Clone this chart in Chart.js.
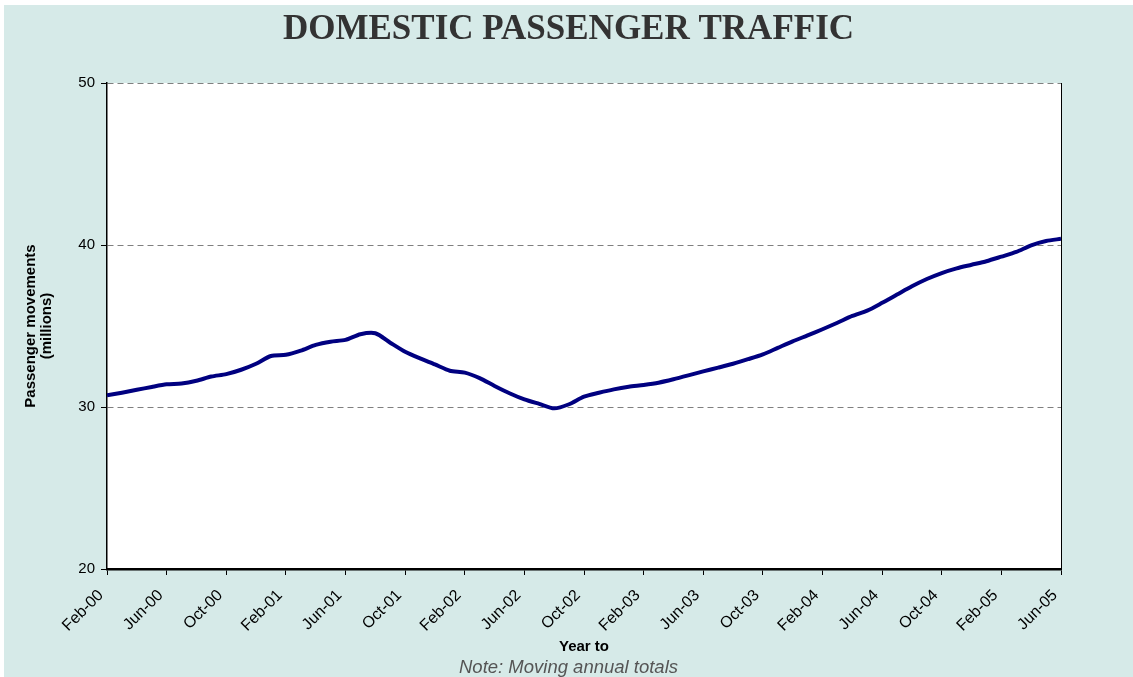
<!DOCTYPE html>
<html>
<head>
<meta charset="utf-8">
<script src="https://cdn.jsdelivr.net/npm/chart.js@4.4.1/dist/chart.umd.min.js"></script>
<style>
  body { margin: 0; background: #fff; }
  #wrap { position: absolute; left: 4px; top: 5px; width: 1129px; height: 672px; background: #d6eae8; }
</style>
</head>
<body>
<div id="wrap"><canvas id="myChart"></canvas></div>
<script>
// months, Feb-00 .. Jun-05 (moving annual totals, millions)
var months = ['Feb-00','Mar-00','Apr-00','May-00','Jun-00','Jul-00','Aug-00','Sep-00','Oct-00','Nov-00','Dec-00','Jan-01',
  'Feb-01','Mar-01','Apr-01','May-01','Jun-01','Jul-01','Aug-01','Sep-01','Oct-01','Nov-01','Dec-01','Jan-02',
  'Feb-02','Mar-02','Apr-02','May-02','Jun-02','Jul-02','Aug-02','Sep-02','Oct-02','Nov-02','Dec-02','Jan-03',
  'Feb-03','Mar-03','Apr-03','May-03','Jun-03','Jul-03','Aug-03','Sep-03','Oct-03','Nov-03','Dec-03','Jan-04',
  'Feb-04','Mar-04','Apr-04','May-04','Jun-04','Jul-04','Aug-04','Sep-04','Oct-04','Nov-04','Dec-04','Jan-05',
  'Feb-05','Mar-05','Apr-05','May-05','Jun-05'];
var passengers = [30.72,30.88,31.06,31.24,31.40,31.45,31.62,31.88,32.03,32.30,32.67,33.15,
  33.22,33.48,33.83,34.03,34.14,34.49,34.55,33.97,33.41,33.00,32.63,32.24,
  32.12,31.78,31.30,30.85,30.47,30.19,29.92,30.17,30.64,30.88,31.09,31.25,
  31.36,31.50,31.71,31.95,32.20,32.43,32.67,32.95,33.25,33.65,34.05,34.42,
  34.80,35.20,35.62,35.95,36.43,36.94,37.45,37.90,38.27,38.56,38.78,39.00,
  39.28,39.57,39.98,40.25,40.38];
var yTicks = [20, 30, 40, 50];

var points = passengers.map(function (v, i) { return { x: i, y: v }; });

// white plot area
var plotBg = {
  id: 'plotBg',
  beforeDraw: function (chart) {
    var a = chart.chartArea, c = chart.ctx;
    c.save();
    c.fillStyle = '#ffffff';
    c.fillRect(a.left, a.top, a.right - a.left, a.bottom - a.top);
    c.restore();
  }
};

var ctx = document.getElementById('myChart').getContext('2d');
var chart = new Chart(ctx, {
  type: 'line',
  data: {
    datasets: [{
      label: 'Passenger movements',
      data: points,
      borderColor: '#000080',
      borderWidth: 4,
      pointRadius: 0,
      tension: 0.25,
      fill: false
    }]
  },
  plugins: [plotBg],
  options: {
    responsive: true,
    maintainAspectRatio: false,
    animation: false,
    layout: { padding: 0 },
    plugins: {
      legend: { display: false },
      tooltip: { enabled: false },
      title: {
        display: true,
        text: 'DOMESTIC PASSENGER TRAFFIC',
        color: '#333333',
        font: { family: 'Liberation Serif', size: 35, weight: 'bold' },
        padding: { top: 4, bottom: 32 }
      },
      subtitle: {
        display: true,
        position: 'bottom',
        text: 'Note: Moving annual totals',
        color: '#555555',
        font: { family: 'Liberation Sans', size: 18.5, style: 'italic', lineHeight: 1.0 },
        padding: { top: 0, bottom: 0 }
      }
    },
    scales: {
      x: {
        type: 'linear',
        min: 0,
        max: months.length - 1,
        afterFit: function (s) { s.height = 89.5; },
        ticks: {
          stepSize: 4,
          autoSkip: false,
          maxRotation: 45,
          minRotation: 45,
          color: '#000',
          padding: 11,
          labelOffset: -6,
          font: { family: 'Liberation Sans', size: 16 },
          callback: function (v) { return months[v]; }
        },
        grid: { drawOnChartArea: false, tickLength: 6, tickColor: '#000', tickWidth: 1 },
        border: { color: '#000', width: 2.5 },
        title: {
          display: true,
          text: 'Year to',
          color: '#000',
          font: { family: 'Liberation Sans', size: 15, weight: 'bold' },
          padding: { top: 0, bottom: 2.5 }
        }
      },
      y: {
        min: 20,
        max: 50,
        afterFit: function (s) { s.width = 103; },
        afterBuildTicks: function (s) { s.ticks = yTicks.map(function (v) { return { value: v }; }); },
        ticks: {
          color: '#000',
          padding: 6,
          font: { family: 'Liberation Sans', size: 15 }
        },
        grid: {
          color: function (c) { return c.tick && c.tick.value > 20 ? '#808080' : 'rgba(0,0,0,0)'; },
          lineWidth: 1,
          tickLength: 6,
          tickColor: '#000'
        },
        border: { color: '#000', width: 1.5, dash: [6, 4] },
        title: {
          display: true,
          text: ['Passenger movements', '(millions)'],
          color: '#000',
          font: { family: 'Liberation Sans', size: 15, weight: 'bold', lineHeight: 1.07 },
          padding: { top: 19, bottom: 0 }
        }
      },
      y2: {
        position: 'right',
        min: 20,
        max: 50,
        afterFit: function (s) { s.width = 72; },
        ticks: { display: false },
        grid: { drawOnChartArea: false, drawTicks: false },
        border: { color: '#000', width: 1 }
      }
    }
  }
});
</script>
</body>
</html>
